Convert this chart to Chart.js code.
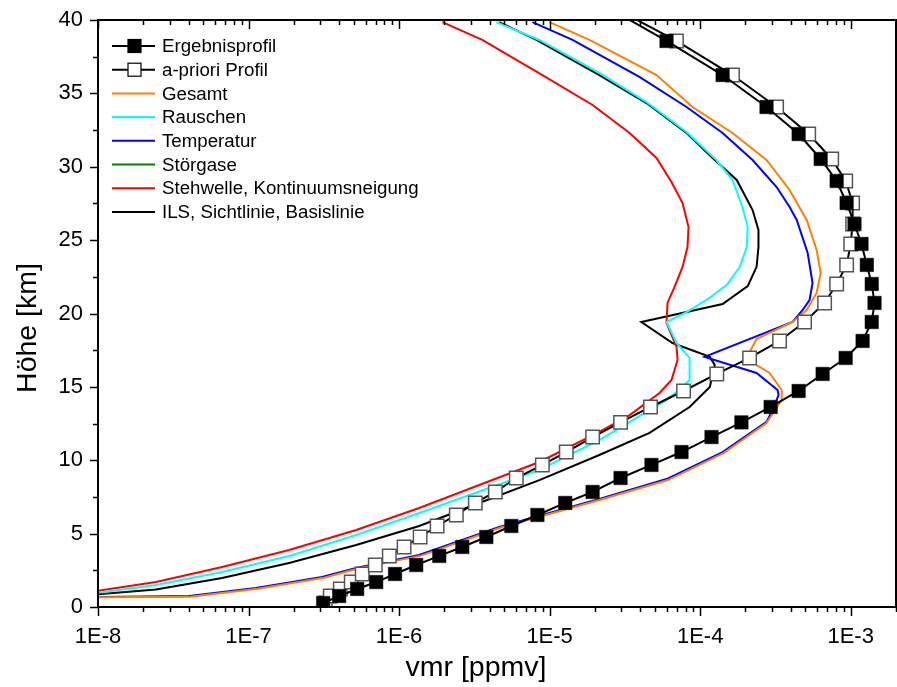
<!DOCTYPE html>
<html lang="de">
<head>
<meta charset="UTF-8">
<title>vmr Profil mit Fehlerbeiträgen</title>
<script src="https://cdn.jsdelivr.net/npm/chart.js"></script>
<style>
  html, body { margin: 0; padding: 0; background: #fff; }
</style>
</head>
<body>
<canvas id="profileChart" width="897" height="687"></canvas>
<script>
// Höhengitter der beiden Profile [km]
const gridHeights = [0.27, 0.75, 1.23, 1.70, 2.25, 2.86, 3.48, 4.09, 4.77, 5.52, 6.27, 7.09,
  7.84, 8.79, 9.68, 10.56, 11.58, 12.58, 13.63, 14.72, 15.88, 16.97, 18.13, 19.42, 20.72,
  22.01, 23.31, 24.74, 26.10, 27.53, 29.03, 30.53, 32.23, 34.07, 36.25, 38.57, 41.0];

// vmr [ppmv]
const ergebnisVmr = [3.13e-7, 4.0e-7, 5.27e-7, 7.05e-7, 9.4e-7, 1.30e-6, 1.85e-6, 2.63e-6,
  3.80e-6, 5.57e-6, 8.30e-6, 1.27e-5, 1.93e-5, 2.96e-5, 4.75e-5, 7.52e-5, 1.19e-4, 1.88e-4,
  2.94e-4, 4.51e-4, 6.51e-4, 9.26e-4, 1.20e-3, 1.38e-3, 1.44e-3, 1.38e-3, 1.28e-3, 1.18e-3,
  1.06e-3, 9.4e-4, 8.07e-4, 6.32e-4, 4.51e-4, 2.76e-4, 1.41e-4, 5.98e-5, 2.3e-5];

const aprioriVmr = [3.23e-7, 3.49e-7, 4.07e-7, 4.81e-7, 5.69e-7, 6.95e-7, 8.61e-7, 1.08e-6,
  1.38e-6, 1.79e-6, 2.40e-6, 3.21e-6, 4.36e-6, 6.01e-6, 8.95e-6, 1.29e-5, 1.93e-5, 2.96e-5,
  4.68e-5, 7.76e-5, 1.29e-4, 2.13e-4, 3.37e-4, 4.94e-4, 6.71e-4, 8.07e-4, 9.40e-4, 1.00e-3,
  1.03e-3, 1.03e-3, 9.27e-4, 7.48e-4, 5.26e-4, 3.22e-4, 1.64e-4, 6.96e-5, 2.5e-5];

// Fehlerbeiträge als [vmr, Höhe]
const gesamtErr = [[1.0e-8, 0.66], [4.1e-8, 0.70], [1.15e-7, 1.25], [3.17e-7, 2.0],
  [5.35e-7, 2.62], [1.40e-6, 3.50], [4.75e-6, 5.42], [2.2e-5, 7.33], [6.1e-5, 8.65],
  [1.43e-4, 10.49], [2.76e-4, 12.54], [3.48e-4, 14.11], [3.48e-4, 14.79], [2.89e-4, 15.95],
  [2.37e-4, 16.49], [2.10e-4, 17.24], [2.37e-4, 18.26], [4.11e-4, 19.42], [5.10e-4, 20.24],
  [5.94e-4, 21.40], [6.32e-4, 22.76], [5.94e-4, 24.33], [5.10e-4, 26.37], [3.93e-4, 28.42],
  [2.76e-4, 30.46], [1.64e-4, 32.30], [8.90e-5, 34.07], [5.13e-5, 36.25], [1.84e-5, 38.64],
  [9.97e-6, 39.86]];

const rauschenErr = [[1.0e-8, 0.97], [2.43e-8, 1.50], [6.67e-8, 2.39], [1.86e-7, 3.48],
  [5.19e-7, 4.91], [1.36e-6, 6.41], [3.41e-6, 7.87], [8.55e-6, 9.34], [2.14e-5, 11.38],
  [3.56e-5, 12.74], [5.98e-5, 14.11], [7.64e-5, 14.99], [8.51e-5, 15.47], [8.51e-5, 16.97],
  [6.97e-5, 17.99], [5.98e-5, 19.42], [8.12e-5, 20.10], [1.10e-4, 20.92], [1.50e-4, 21.94],
  [1.83e-4, 23.17], [2.04e-4, 24.53], [2.07e-4, 25.89], [1.91e-4, 27.26], [1.64e-4, 29.10],
  [1.28e-4, 30.46], [8.12e-5, 32.37], [4.40e-5, 34.41], [2.14e-5, 36.39], [8.55e-6, 38.64],
  [4.43e-6, 39.86]];

const temperaturErr = [[1.0e-8, 0.68], [4.03e-8, 0.75], [1.12e-7, 1.29], [3.08e-7, 2.04],
  [5.19e-7, 2.66], [1.36e-6, 3.54], [4.63e-6, 5.45], [2.14e-5, 7.36], [5.98e-5, 8.72],
  [1.41e-4, 10.56], [2.76e-4, 12.61], [3.03e-4, 13.42], [3.32e-4, 14.45], [3.27e-4, 14.79],
  [2.37e-4, 15.95], [1.07e-4, 17.04], [4.11e-4, 19.42], [4.80e-4, 20.24], [5.33e-4, 20.92],
  [5.58e-4, 22.08], [5.18e-4, 24.12], [4.38e-4, 26.37], [3.93e-4, 27.26], [3.22e-4, 28.62],
  [2.23e-4, 30.46], [1.41e-4, 32.30], [8.12e-5, 34.07], [3.95e-5, 36.12], [1.42e-5, 38.64],
  [7.69e-6, 39.86]];

// Störgase: liegt komplett unterhalb 1E-8, im Bild nicht sichtbar
const stoergaseErr = [];

const stehwelleErr = [[1.0e-8, 1.11], [2.43e-8, 1.70], [6.67e-8, 2.73], [1.86e-7, 3.88],
  [5.19e-7, 5.25], [1.36e-6, 6.75], [3.41e-6, 8.31], [8.55e-6, 9.88], [2.14e-5, 11.93],
  [3.40e-5, 13.08], [5.37e-5, 14.58], [6.45e-5, 15.47], [7.08e-5, 16.83], [6.97e-5, 17.72],
  [5.98e-5, 19.35], [6.07e-5, 20.72], [6.76e-5, 21.81], [7.64e-5, 23.17], [8.24e-5, 24.53],
  [8.37e-5, 25.89], [7.64e-5, 27.53], [6.45e-5, 28.96], [5.13e-5, 30.60], [3.40e-5, 32.30],
  [1.93e-5, 34.21], [8.96e-6, 36.25], [3.57e-6, 38.64], [1.94e-6, 39.86]];

const ilsErr = [[1.0e-8, 0.87], [2.43e-8, 1.20], [6.67e-8, 1.98], [1.86e-7, 3.00],
  [5.19e-7, 4.22], [1.36e-6, 5.52], [3.41e-6, 7.09], [8.55e-6, 8.65], [2.14e-5, 10.36],
  [4.61e-5, 11.86], [8.51e-5, 13.63], [1.16e-4, 14.99], [1.25e-4, 16.49], [1.16e-4, 17.04],
  [6.55e-5, 17.99], [4.07e-5, 19.42], [1.41e-4, 20.65], [2.07e-4, 21.87], [2.37e-4, 23.17],
  [2.44e-4, 24.53], [2.44e-4, 25.69], [2.23e-4, 27.05], [1.75e-4, 29.10], [1.21e-4, 30.60],
  [8.12e-5, 32.30], [4.40e-5, 34.34], [2.14e-5, 36.25], [8.17e-6, 38.64], [4.63e-6, 39.86]];

const xTickValues = [1e-8, 1e-7, 1e-6, 1e-5, 1e-4, 1e-3];
const xTickLabels = ['1E-8', '1E-7', '1E-6', '1E-5', '1E-4', '1E-3'];
const yTickValues = [0, 5, 10, 15, 20, 25, 30, 35, 40];
const yTickLabels = ['0', '5', '10', '15', '20', '25', '30', '35', '40'];

const FONT = '"Liberation Sans", Arial, sans-serif';
Chart.defaults.font.family = FONT;
Chart.defaults.color = '#000';

function pairs(arr) {
  return arr.map(p => ({ x: p[0], y: p[1] }));
}
function curve(label, color, arr) {
  return { label: label, data: pairs(arr), showLine: true, borderColor: color,
    backgroundColor: color, borderWidth: 2, pointRadius: 0, pointHoverRadius: 0 };
}

// Achsenrahmen, Teilstriche und Achsentitel
const frameTicks = {
  id: 'frameTicks',
  afterDraw(chart) {
    const ctx = chart.ctx;
    const a = chart.chartArea;
    const xs = chart.scales.x, ys = chart.scales.y;
    ctx.save();
    ctx.strokeStyle = '#000';
    ctx.lineWidth = 1.5;
    ctx.beginPath();
    xTickValues.forEach(d => {
      for (let k = 1; k <= 9; k++) {
        const v = d * k;
        if (v > xs.max * 1.0001) break;
        const px = Math.round(xs.getPixelForValue(v)) + 0.5;
        const len = k === 1 ? 9 : 5;
        ctx.moveTo(px, a.bottom); ctx.lineTo(px, a.bottom + len);
        ctx.moveTo(px, a.top); ctx.lineTo(px, a.top + len);
      }
    });
    for (let h = 0; h <= 40; h += 2.5) {
      const py = Math.round(ys.getPixelForValue(h)) + 0.5;
      const len = h % 5 === 0 ? 8 : 5;
      ctx.moveTo(a.left, py); ctx.lineTo(a.left - len, py);
    }
    ctx.stroke();
    ctx.lineWidth = 2;
    ctx.strokeRect(a.left, a.top, a.right - a.left, a.bottom - a.top);

    ctx.fillStyle = '#000';
    ctx.font = '28.5px ' + FONT;
    ctx.textAlign = 'center';
    ctx.textBaseline = 'middle';
    ctx.fillText('vmr [ppmv]', 476, 668);
    ctx.translate(28, 328);
    ctx.rotate(-Math.PI / 2);
    ctx.fillText('Höhe [km]', 0, 0);
    ctx.restore();
  }
};

// Legende oben links im Diagramm
const innerLegend = {
  id: 'innerLegend',
  afterDraw(chart) {
    const ctx = chart.ctx;
    ctx.save();
    ctx.font = '18.7px ' + FONT;
    ctx.textBaseline = 'middle';
    ctx.textAlign = 'left';
    chart.data.datasets.forEach((ds, i) => {
      const y = 46 + i * 23.7;
      ctx.strokeStyle = ds.borderColor;
      ctx.lineWidth = 2;
      ctx.beginPath();
      ctx.moveTo(112, y); ctx.lineTo(155, y);
      ctx.stroke();
      if (ds.pointRadius > 0) {
        ctx.fillStyle = ds.pointBackgroundColor;
        ctx.fillRect(128, y - 6.5, 13, 13);
        ctx.strokeStyle = '#000';
        ctx.lineWidth = 1.2;
        ctx.strokeRect(128, y - 6.5, 13, 13);
      }
      ctx.fillStyle = '#000';
      ctx.fillText(ds.label, 162, y + 1);
    });
    ctx.restore();
  }
};

function noPadding(s) {
  s.paddingLeft = 0;
  s.paddingRight = 0;
  s.paddingTop = 0;
  s.paddingBottom = 0;
}

new Chart(document.getElementById('profileChart'), {
  type: 'scatter',
  data: {
    datasets: [
      { label: 'Ergebnisprofil', data: gridHeights.map((h, i) => ({ x: ergebnisVmr[i], y: h })),
        showLine: true, borderColor: '#000', borderWidth: 2, pointStyle: 'rect',
        pointRadius: 9.5, pointBackgroundColor: '#000', pointBorderColor: '#000',
        pointBorderWidth: 0.5 },
      { label: 'a-priori Profil', data: gridHeights.map((h, i) => ({ x: aprioriVmr[i], y: h })),
        showLine: true, borderColor: '#000', borderWidth: 2, pointStyle: 'rect',
        pointRadius: 9.5, pointBackgroundColor: '#fff', pointBorderColor: '#555',
        pointBorderWidth: 1.5 },
      curve('Gesamt', '#ff8000', gesamtErr),
      curve('Rauschen', '#00ffff', rauschenErr),
      curve('Temperatur', '#0000ff', temperaturErr),
      curve('Störgase', '#008000', stoergaseErr),
      curve('Stehwelle, Kontinuumsneigung', '#ff0000', stehwelleErr),
      curve('ILS, Sichtlinie, Basislinie', '#000000', ilsErr)
    ]
  },
  options: {
    responsive: false,
    animation: false,
    devicePixelRatio: 1,
    layout: { autoPadding: false, padding: { left: 0, right: 1, top: 20, bottom: 0 } },
    plugins: { legend: { display: false }, tooltip: { enabled: false } },
    scales: {
      x: {
        type: 'logarithmic',
        min: 1e-8,
        max: 2e-3,
        grid: { display: false, drawTicks: false },
        border: { display: false },
        afterBuildTicks: s => { s.ticks = xTickValues.map(v => ({ value: v })); },
        ticks: {
          autoSkip: false, maxRotation: 0, padding: 17, color: '#000',
          font: { size: 22 },
          callback: (v, i) => xTickLabels[i]
        },
        afterFit: s => { s.height = 80; noPadding(s); }
      },
      y: {
        type: 'linear',
        min: 0,
        max: 40,
        grid: { display: false, drawTicks: false },
        border: { display: false },
        afterBuildTicks: s => { s.ticks = yTickValues.map(v => ({ value: v })); },
        ticks: {
          padding: 15, color: '#000', font: { size: 22 },
          callback: (v, i) => yTickLabels[i]
        },
        afterFit: s => { s.width = 98; noPadding(s); }
      }
    }
  },
  plugins: [frameTicks, innerLegend]
});
</script>
</body>
</html>
